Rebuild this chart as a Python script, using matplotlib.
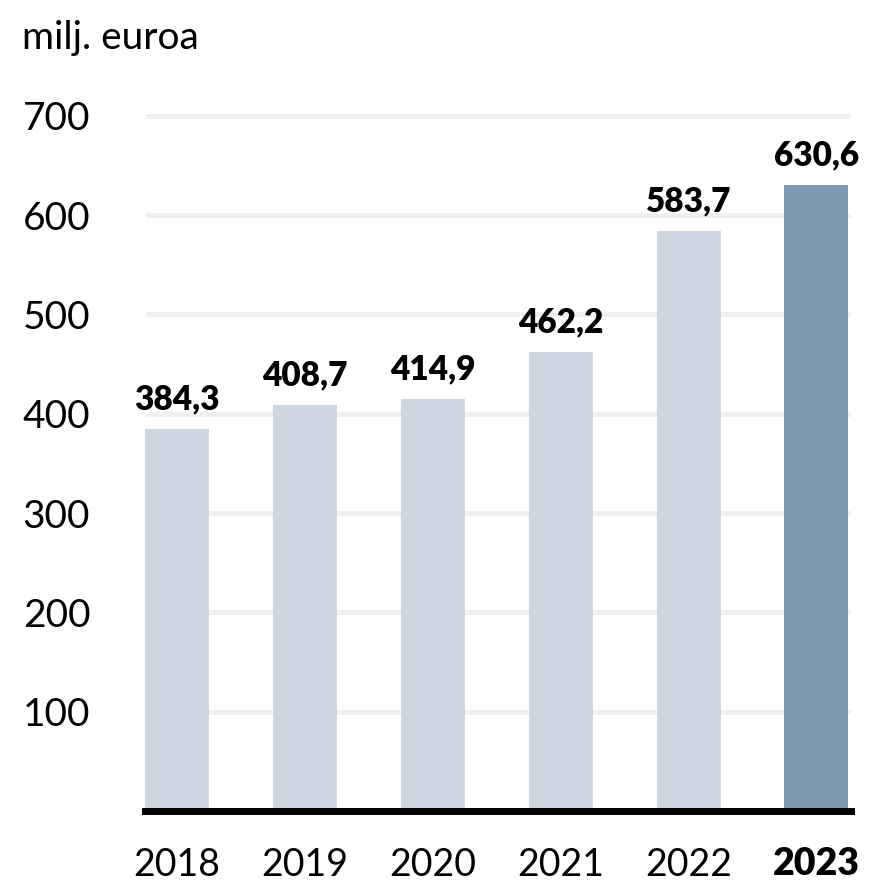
import matplotlib.pyplot as plt

years = ["2018", "2019", "2020", "2021", "2022", "2023"]
values = [384.3, 408.7, 414.9, 462.2, 583.7, 630.6]
value_labels = ["384,3", "408,7", "414,9", "462,2", "583,7", "630,6"]
y_ticks = [100, 200, 300, 400, 500, 600, 700]

plt.rcParams['font.family'] = ['Lato', 'DejaVu Sans']

fig = plt.figure(figsize=(8.71, 8.82), dpi=100)
ax = fig.add_axes([145 / 871, 1 - 811 / 882, (851 - 145) / 871, (811 - 96) / 882])

colors = ['#cdd7e1'] * 5 + ['#7f9ab3']
x = list(range(len(years)))
ax.bar(x, values, width=0.5, color=colors, zorder=2)

for i in range(len(values)):
    ax.text(x[i], values[i] + 14, value_labels[i], ha='center', va='bottom',
            fontsize=24, fontweight='heavy', color='black')

for t in y_ticks:
    ax.axhline(t, color='#f0f0f0', lw=3.6, zorder=1, xmin=3 / 706, xmax=1)
ax.axhline(0, color='black', lw=5, zorder=3, clip_on=False)

ax.set_xlim(-0.25, 5.27)
ax.set_ylim(0, 720)
ax.set_yticks(y_ticks)
ax.set_yticklabels([str(t) for t in y_ticks], fontsize=28, ha='left')
ax.tick_params(axis='y', length=0, pad=88)
ax.set_xticks(x)
ax.set_xticklabels(years, fontsize=27)
ax.get_xticklabels()[-1].set_fontweight('heavy')
ax.tick_params(axis='x', length=0, pad=26)
for s in ax.spines.values():
    s.set_visible(False)

fig.text(22 / 871, 1 - 38 / 882, "milj. euroa", fontsize=28, va='center', ha='left')

fig.savefig("out.png", dpi=100)
